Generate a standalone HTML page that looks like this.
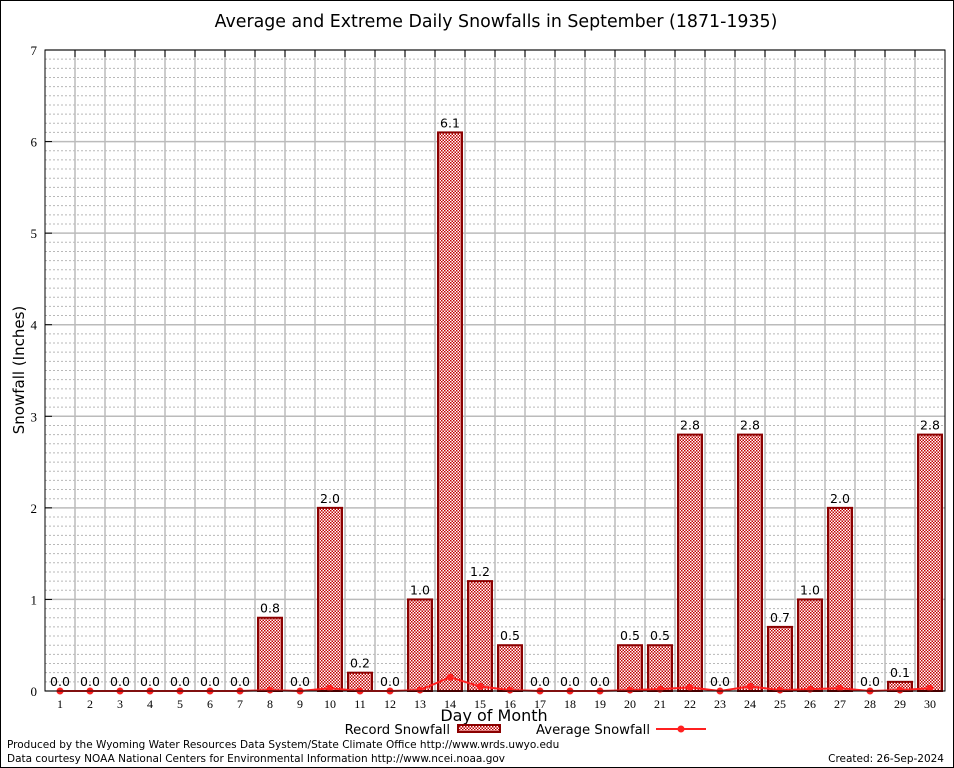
<!DOCTYPE html>
<html><head><meta charset="utf-8"><style>
body{margin:0;background:#fff}
svg{display:block;font-family:"DejaVu Sans","Liberation Sans",sans-serif}
</style></head><body>
<svg id="chart" width="954" height="768" viewBox="0 0 954 768" xmlns="http://www.w3.org/2000/svg">
<defs>
<pattern id="chk" width="3" height="3" patternUnits="userSpaceOnUse">
<rect width="3" height="3" fill="#fff"/>
<rect width="1.5" height="1.5" fill="#c00000"/>
<rect x="1.5" y="1.5" width="1.5" height="1.5" fill="#c00000"/>
</pattern>
</defs>
<rect x="0.5" y="0.5" width="953" height="767" fill="#fff" stroke="#000"/>
<text x="496" y="27" text-anchor="middle" font-size="17.4">Average and Extreme Daily Snowfalls in September (1871-1935)</text>
<g id="grid"></g>
<g id="bars"></g>
<g id="avg"></g>
<g id="axes"></g>
<text transform="translate(24,370) rotate(-90)" text-anchor="middle" font-size="15">Snowfall (Inches)</text>
<text x="494" y="721" text-anchor="middle" font-size="16">Day of Month</text>
<g>
<text x="450" y="734" text-anchor="end" font-size="13.2">Record Snowfall</text>
<rect x="458" y="725" width="42" height="7" fill="url(#chk)" stroke="#8b0000" stroke-width="2"/>
<text x="650" y="734" text-anchor="end" font-size="13.2">Average Snowfall</text>
<line x1="656" y1="729" x2="706" y2="729" stroke="#ff2020" stroke-width="2"/>
<circle cx="681" cy="729" r="3.5" fill="#ff2020"/>
</g>
<text x="7" y="748" font-size="10.5">Produced by the Wyoming Water Resources Data System/State Climate Office http://www.wrds.uwyo.edu</text>
<text x="7" y="762" font-size="10.5">Data courtesy NOAA National Centers for Environmental Information http://www.ncei.noaa.gov</text>
<text x="944" y="762" text-anchor="end" font-size="10.5">Created: 26-Sep-2024</text>
</svg>
<script>
const days = [1,2,3,4,5,6,7,8,9,10,11,12,13,14,15,16,17,18,19,20,21,22,23,24,25,26,27,28,29,30];
const recordSnow = [0,0,0,0,0,0,0,0.8,0,2.0,0.2,0,1.0,6.1,1.2,0.5,0,0,0,0.5,0.5,2.8,0,2.8,0.7,1.0,2.0,0,0.1,2.8];
const avgSnow = [0,0,0,0,0,0,0,0.01,0,0.03,0,0,0.01,0.15,0.05,0.01,0,0,0,0.01,0.02,0.04,0,0.05,0.01,0.02,0.03,0,0.01,0.03];
const yTicks = [0,1,2,3,4,5,6,7];

const NS="http://www.w3.org/2000/svg";
const L=45,R=945,T=50,B=691,yMax=7;
const x=d=>60+(d-1)*30;
const y=v=>B-(v/yMax)*(B-T);
function mk(tag,attrs,parent,txt){const e=document.createElementNS(NS,tag);for(const k in attrs)e.setAttribute(k,attrs[k]);if(txt!==undefined)e.textContent=txt;parent.appendChild(e);return e;}
const grid=document.getElementById('grid'),bars=document.getElementById('bars'),avg=document.getElementById('avg'),axes=document.getElementById('axes');
for(let i=1;i<yMax*10;i++){if(i%10===0)continue;const l=mk('line',{x1:L,x2:R,y1:y(i/10),y2:y(i/10),stroke:'#b8b8b8','stroke-dasharray':'2,2','stroke-width':1},grid);

}
yTicks.forEach(t=>{const l=mk('line',{x1:L,x2:R,y1:y(t),y2:y(t),stroke:'#bbb','stroke-width':1.5},grid);


const tx=mk('text',{x:L-8,y:y(t)+5,'text-anchor':'end','font-size':13,'font-family':'Liberation Serif, serif'},axes,String(t));


const tk=mk('line',{x1:L,x2:L+7,y1:y(t),y2:y(t),stroke:'#000'},axes);

});
days.forEach((d,i)=>{if(i<days.length-1){const l=mk('line',{x1:x(d)+15,x2:x(d)+15,y1:T,y2:B,stroke:'#bbb','stroke-width':1.5},grid);


const tk=mk('line',{x1:x(d)+15,x2:x(d)+15,y1:T,y2:T+7,stroke:'#000'},axes);

}
const v=recordSnow[i];
if(v>0){const r=mk('rect',{x:x(d)-12,y:y(v),width:24,height:B-y(v),fill:'url(#chk)',stroke:'#8b0000','stroke-width':2},bars);

}
const lb=mk('text',{x:x(d),y:y(v)-5,'text-anchor':'middle','font-size':12.5},bars,v.toFixed(1));


const xl=mk('text',{x:x(d),y:B+17,'text-anchor':'middle','font-size':12,'font-family':'Liberation Serif, serif'},axes,String(d));

});
const pl=mk('polyline',{points:days.map((d,i)=>x(d)+','+y(avgSnow[i])).join(' '),fill:'none',stroke:'#ff2020','stroke-width':2},avg);


days.forEach((d,i)=>{const c=mk('circle',{cx:x(d),cy:y(avgSnow[i]),r:3.5,fill:'#ff2020'},avg);

});
const fr=mk('rect',{x:L,y:T,width:R-L,height:B-T,fill:'none',stroke:'#000','stroke-width':1},axes);


</script>
</body></html>
